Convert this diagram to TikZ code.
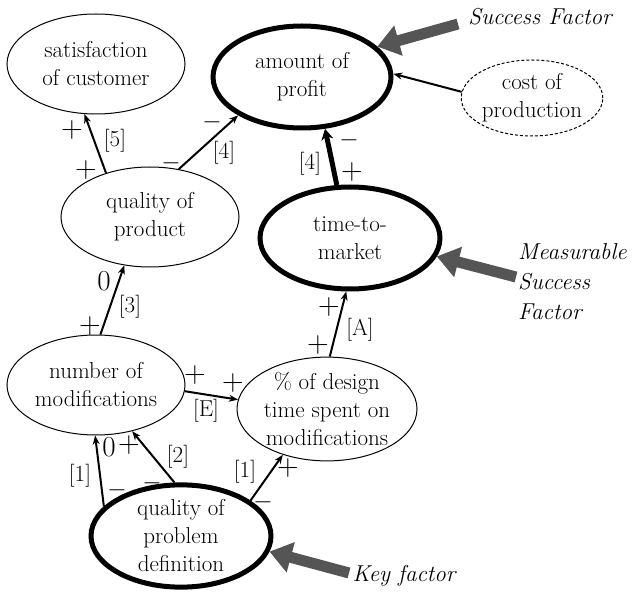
\documentclass[tikz,border=0pt]{standalone}
\usetikzlibrary{shapes.geometric,arrows.meta}
\definecolor{pgrey}{RGB}{85,85,85}
\begin{document}
\begin{tikzpicture}[x=1pt,y=-1pt,
  every node/.style={font=\rmfamily\fontsize{23}{28}\selectfont},
  ell/.style={ellipse, draw, line width=1pt, inner sep=0pt, align=center, minimum width=178pt, minimum height=100pt},
  keyell/.style={ell, line width=5pt},
  dashell/.style={ell, dash pattern=on 3pt off 2pt, minimum width=130pt, minimum height=76pt},
  conn/.style={line width=2pt, -{Stealth[length=9pt,width=7pt]}},
  bigconn/.style={line width=5pt, -{Stealth[length=11pt,width=12pt]}},
  lab/.style={inner sep=0pt},
  sgn/.style={inner sep=0pt, font=\rmfamily\fontsize{30}{30}\selectfont},
  zero/.style={inner sep=0pt, font=\rmfamily\fontsize{29}{30}\selectfont},
  pointer/.style={line width=11pt, draw=pgrey, -{Triangle[length=22pt,width=30pt]}},
  callout/.style={font=\rmfamily\fontsize{23}{30}\selectfont\itshape, inner sep=0pt, align=left}
]
\useasboundingbox (0,0) rectangle (642,593);

% ellipses
\node[ell] (sat) at (96,64) {satisfaction\\of customer};
\node[keyell, minimum height=102pt] (prof) at (302,77) {amount of\\profit};
\node[dashell] (cost) at (532,98) {cost of\\production};
\node[ell] (qop) at (150,217) {quality of\\product};
\node[keyell, minimum width=180pt, minimum height=102pt] (ttm) at (350,238) {time-to-\\market};
\node[ell] (nom) at (96,385) {number of\\modifications};
\node[ell, minimum width=180pt] (pct) at (327,409) {\% of design\\time spent on\\modifications};
\node[keyell, minimum width=180pt] (qpd) at (181,536) {quality of\\problem\\definition};

% connectors
\draw[conn] (qop.135) -- (sat.257);
\draw[conn] (qop.59) -- (prof.211);
\draw[conn] (cost.175) -- (prof.2);
\draw[bigconn] (ttm.104) -- (prof.294);
\draw[conn] (nom.85) -- (qop.242);
\draw[conn] (pct.87) -- (ttm.266);
\draw[conn] (nom.356) -- (pct.174);
\draw[conn] (qpd.159) -- (nom.269);
\draw[conn] (qpd.97) -- (nom.308);
\draw[conn] (qpd.27) -- (pct.226);

% labels
\node[sgn] (a1) at (72,130) {+};
\node[lab] (a2) at (115,141) {[5]};
\node[sgn] (a3) at (86,170) {+};
\node[sgn] (b1) at (212,122) {$-$};
\node[lab] (b2) at (224,153) {[4]};
\node[sgn] (b3) at (171,163) {$-$};
\node[lab] (c1) at (310,164) {[4]};
\node[sgn] (c2) at (349,140) {$-$};
\node[sgn] (c3) at (352,172) {+};
\node[zero] (d1) at (104,281) {0};
\node[lab] (d2) at (130,307) {[3]};
\node[sgn] (d3) at (90,326) {+};
\node[sgn] (e1) at (329,307) {+};
\node[lab] (e2) at (360,330) {[A]};
\node[sgn] (e3) at (318,345) {+};
\node[sgn] (f1) at (195,375) {+};
\node[sgn] (f2) at (233,383) {+};
\node[lab] (f3) at (206,411) {[E]};
\node[lab] (g1) at (80,476) {[1]};
\node[zero] (g2) at (109,447) {0};
\node[sgn] (g3) at (117,490) {$-$};
\node[sgn] (h1) at (129,445) {+};
\node[lab] (h2) at (178,457) {[2]};
\node[sgn] (h3) at (152,483) {$-$};
\node[lab] (i1) at (245,472) {[1]};
\node[sgn] (i2) at (288,468) {+};
\node[sgn] (i3) at (263,502) {$-$};

% callouts
\node[callout] (sf) at (540,17) {Success Factor};
\node[callout, anchor=west] (msf) at (518,282) {Measurable\\Success\\Factor};
\node[callout] (kf) at (404,576) {Key factor};
\coordinate (sft) at (458,24);
\coordinate (msft) at (516,277);
\coordinate (kft) at (349,573);
\draw[pointer] (sft) -- (prof.22);
\draw[pointer] (msft) -- (ttm.348);
\draw[pointer] (kft) -- (qpd.350);
\end{tikzpicture}
\end{document}
